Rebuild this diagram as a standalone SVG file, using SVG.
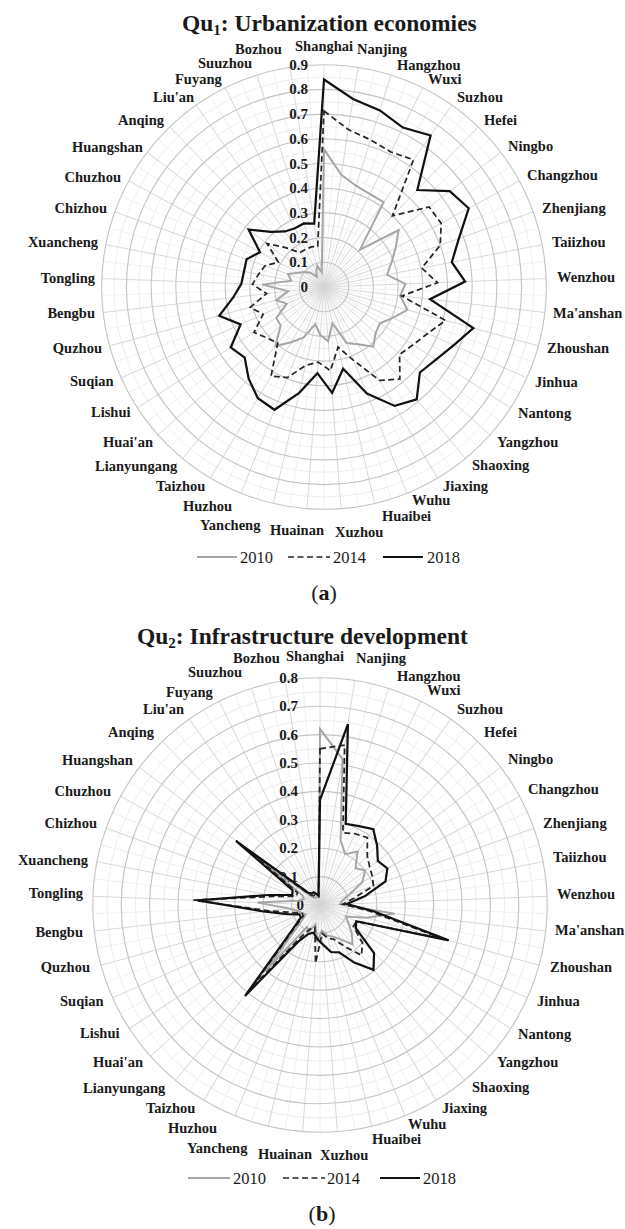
<svg xmlns="http://www.w3.org/2000/svg" width="625" height="1229" viewBox="0 0 625 1229">
<style>
text{font-family:"Liberation Serif","Times New Roman",serif;fill:#1a1a1a}
.ttl{font-size:23.5px;font-weight:bold}
.sub{font-size:15px}
.city{font-size:14.5px;font-weight:bold}
.tick{font-size:15px;font-weight:bold;text-anchor:end}
.leg{font-size:16.5px}
.cap{font-size:22px}
.gA .maj{fill:none;stroke:#c4c4c4;stroke-width:0.45}
.gA .min{fill:none;stroke:#e6e6e6;stroke-width:0.3}
.gA use{stroke:#d6d6d6;stroke-width:0.36}
.gA use.m{stroke:#ececec;stroke-width:0.3}
.gB .maj{fill:none;stroke:#c4c4c4;stroke-width:0.4}
.gB .min{fill:none;stroke:#e6e6e6;stroke-width:0.27}
.gB use{stroke:#d6d6d6;stroke-width:0.32}
.gB use.m{stroke:#ececec;stroke-width:0.27}
.sA polygon,.sB polygon{fill:none;stroke-linejoin:miter}
.sA .y10{stroke:#a6a6a6;stroke-width:0.81}
.sA .y14{stroke:#262626;stroke-width:0.7;stroke-dasharray:2.4 1.4}
.sA .y18{stroke:#111;stroke-width:0.9}
.sB .y10{stroke:#a6a6a6;stroke-width:0.7}
.sB .y14{stroke:#262626;stroke-width:0.62;stroke-dasharray:2.1 1.25}
.sB .y18{stroke:#111;stroke-width:0.78}
.lg10{stroke:#a6a6a6;stroke-width:2}
.lg14{stroke:#262626;stroke-width:1.7;stroke-dasharray:6 3.5}
.lg18{stroke:#111;stroke-width:2.2}
</style>
<defs>
<line id="spA" x1="0" y1="0" x2="0" y2="-90"/>
<line id="spB" x1="0" y1="0" x2="0" y2="-80"/>
</defs>
<rect x="0" y="0" width="625" height="1229" fill="#ffffff"/>

<!-- ================= CHART A ================= -->
<g id="chartA-title"><text class="ttl" x="182" y="31">Qu<tspan class="sub" dy="4">1</tspan><tspan dy="-4">: Urbanization economies</tspan></text></g>

<g id="chartA-grid" class="gA" transform="translate(324,287) scale(2.47)">
<circle class="min" r="5"/><circle class="min" r="15"/><circle class="min" r="25"/><circle class="min" r="35"/><circle class="min" r="45"/><circle class="min" r="55"/><circle class="min" r="65"/><circle class="min" r="75"/><circle class="min" r="85"/>
<use class="m" href="#spA" transform="rotate(4.39)"/><use class="m" href="#spA" transform="rotate(13.171)"/><use class="m" href="#spA" transform="rotate(21.951)"/><use class="m" href="#spA" transform="rotate(30.732)"/><use class="m" href="#spA" transform="rotate(39.512)"/><use class="m" href="#spA" transform="rotate(48.293)"/><use class="m" href="#spA" transform="rotate(57.073)"/><use class="m" href="#spA" transform="rotate(65.854)"/><use class="m" href="#spA" transform="rotate(74.634)"/><use class="m" href="#spA" transform="rotate(83.415)"/><use class="m" href="#spA" transform="rotate(92.195)"/><use class="m" href="#spA" transform="rotate(100.976)"/><use class="m" href="#spA" transform="rotate(109.756)"/><use class="m" href="#spA" transform="rotate(118.537)"/><use class="m" href="#spA" transform="rotate(127.317)"/><use class="m" href="#spA" transform="rotate(136.098)"/><use class="m" href="#spA" transform="rotate(144.878)"/><use class="m" href="#spA" transform="rotate(153.659)"/><use class="m" href="#spA" transform="rotate(162.439)"/><use class="m" href="#spA" transform="rotate(171.22)"/><use class="m" href="#spA" transform="rotate(180)"/><use class="m" href="#spA" transform="rotate(188.78)"/><use class="m" href="#spA" transform="rotate(197.561)"/><use class="m" href="#spA" transform="rotate(206.341)"/><use class="m" href="#spA" transform="rotate(215.122)"/><use class="m" href="#spA" transform="rotate(223.902)"/><use class="m" href="#spA" transform="rotate(232.683)"/><use class="m" href="#spA" transform="rotate(241.463)"/><use class="m" href="#spA" transform="rotate(250.244)"/><use class="m" href="#spA" transform="rotate(259.024)"/><use class="m" href="#spA" transform="rotate(267.805)"/><use class="m" href="#spA" transform="rotate(276.585)"/><use class="m" href="#spA" transform="rotate(285.366)"/><use class="m" href="#spA" transform="rotate(294.146)"/><use class="m" href="#spA" transform="rotate(302.927)"/><use class="m" href="#spA" transform="rotate(311.707)"/><use class="m" href="#spA" transform="rotate(320.488)"/><use class="m" href="#spA" transform="rotate(329.268)"/><use class="m" href="#spA" transform="rotate(338.049)"/><use class="m" href="#spA" transform="rotate(346.829)"/><use class="m" href="#spA" transform="rotate(355.61)"/>
<use href="#spA"/><use href="#spA" transform="rotate(8.7805)"/><use href="#spA" transform="rotate(17.561)"/><use href="#spA" transform="rotate(26.3415)"/><use href="#spA" transform="rotate(35.122)"/><use href="#spA" transform="rotate(43.9025)"/><use href="#spA" transform="rotate(52.683)"/><use href="#spA" transform="rotate(61.4635)"/><use href="#spA" transform="rotate(70.244)"/><use href="#spA" transform="rotate(79.0245)"/><use href="#spA" transform="rotate(87.805)"/><use href="#spA" transform="rotate(96.5855)"/><use href="#spA" transform="rotate(105.366)"/><use href="#spA" transform="rotate(114.1465)"/><use href="#spA" transform="rotate(122.927)"/><use href="#spA" transform="rotate(131.7075)"/><use href="#spA" transform="rotate(140.488)"/><use href="#spA" transform="rotate(149.2685)"/><use href="#spA" transform="rotate(158.049)"/><use href="#spA" transform="rotate(166.8295)"/><use href="#spA" transform="rotate(175.61)"/><use href="#spA" transform="rotate(184.3905)"/><use href="#spA" transform="rotate(193.171)"/><use href="#spA" transform="rotate(201.9515)"/><use href="#spA" transform="rotate(210.732)"/><use href="#spA" transform="rotate(219.5125)"/><use href="#spA" transform="rotate(228.293)"/><use href="#spA" transform="rotate(237.0735)"/><use href="#spA" transform="rotate(245.854)"/><use href="#spA" transform="rotate(254.6345)"/><use href="#spA" transform="rotate(263.415)"/><use href="#spA" transform="rotate(272.1955)"/><use href="#spA" transform="rotate(280.976)"/><use href="#spA" transform="rotate(289.7565)"/><use href="#spA" transform="rotate(298.537)"/><use href="#spA" transform="rotate(307.3175)"/><use href="#spA" transform="rotate(316.098)"/><use href="#spA" transform="rotate(324.8785)"/><use href="#spA" transform="rotate(333.659)"/><use href="#spA" transform="rotate(342.4395)"/><use href="#spA" transform="rotate(351.22)"/>
<circle class="maj" r="10"/><circle class="maj" r="20"/><circle class="maj" r="30"/><circle class="maj" r="40"/><circle class="maj" r="50"/><circle class="maj" r="60"/><circle class="maj" r="70"/><circle class="maj" r="80"/><circle class="maj" r="90"/>
</g>

<g id="chartA-ticks">
<text class="tick" x="308" y="292">0</text>
<text class="tick" x="308" y="267.3">0.1</text>
<text class="tick" x="308" y="242.6">0.2</text>
<text class="tick" x="308" y="217.9">0.3</text>
<text class="tick" x="308" y="193.2">0.4</text>
<text class="tick" x="308" y="168.5">0.5</text>
<text class="tick" x="308" y="143.8">0.6</text>
<text class="tick" x="308" y="119.1">0.7</text>
<text class="tick" x="308" y="94.4">0.8</text>
<text class="tick" x="308" y="69.7">0.9</text>
</g>

<g id="chartA-cities" class="city">
<text class="city" x="295" y="51">Shanghai</text>
<text class="city" x="357" y="54">Nanjing</text>
<text class="city" x="397" y="69.5">Hangzhou</text>
<text class="city" x="428" y="83.5">Wuxi</text>
<text class="city" x="457" y="101.5">Suzhou</text>
<text class="city" x="484" y="124.5">Hefei</text>
<text class="city" x="508" y="150.5">Ningbo</text>
<text class="city" x="527" y="179.5">Changzhou</text>
<text class="city" x="542" y="212.5">Zhenjiang</text>
<text class="city" x="552" y="246.5">Taiizhou</text>
<text class="city" x="557" y="281.5">Wenzhou</text>
<text class="city" x="553" y="317.5">Ma'anshan</text>
<text class="city" x="547" y="352.5">Zhoushan</text>
<text class="city" x="535" y="386.5">Jinhua</text>
<text class="city" x="518" y="417.5">Nantong</text>
<text class="city" x="497" y="446.5">Yangzhou</text>
<text class="city" x="472" y="469.5">Shaoxing</text>
<text class="city" x="443" y="490.5">Jiaxing</text>
<text class="city" x="412" y="504.5">Wuhu</text>
<text class="city" x="382" y="520.5">Huaibei</text>
<text class="city" x="335" y="536.5">Xuzhou</text>
<text class="city" x="270" y="534.5">Huainan</text>
<text class="city" x="200" y="529.5">Yancheng</text>
<text class="city" x="183" y="510.5">Huzhou</text>
<text class="city" x="156" y="490.5">Taizhou</text>
<text class="city" x="95" y="470.5">Lianyungang</text>
<text class="city" x="103" y="446.5">Huai'an</text>
<text class="city" x="91" y="416.5">Lishui</text>
<text class="city" x="70" y="385.5">Suqian</text>
<text class="city" x="102" y="352.5" text-anchor="end">Quzhou</text>
<text class="city" x="95" y="317.5" text-anchor="end">Bengbu</text>
<text class="city" x="95" y="282.5" text-anchor="end">Tongling</text>
<text class="city" x="98" y="246.5" text-anchor="end">Xuancheng</text>
<text class="city" x="107" y="212.5" text-anchor="end">Chizhou</text>
<text class="city" x="121" y="181.5" text-anchor="end">Chuzhou</text>
<text class="city" x="72" y="151.5">Huangshan</text>
<text class="city" x="118" y="124.5">Anqing</text>
<text class="city" x="153" y="101.5">Liu'an</text>
<text class="city" x="175" y="83.5">Fuyang</text>
<text class="city" x="198" y="67.5">Suuzhou</text>
<text class="city" x="235" y="54">Bozhou</text>
</g>

<g id="chartA-series" class="sA" transform="translate(324,287) scale(2.47)">
<polygon id="A2010" class="y10" points="0,-55.7 7.02,-45.46 12.97,-41.00 18.63,-37.64 24.16,-34.35 14.56,-15.13 30.22,-23.04 28.99,-15.77 27.29,-9.80 25.52,-4.95 32.98,-1.26 30.80,3.56 33.75,9.27 27.83,12.48 22.66,14.68 20.90,18.63 19.91,24.15 13.80,23.21 9.16,22.72 3.42,14.61 1.68,21.94 -1.49,19.44 -3.51,14.99 -8.22,20.41 -13.29,22.35 -19.72,23.92 -17.54,15.64 -19.30,12.51 -15.06,6.75 -19.29,5.30 -14.50,1.67 -24.98,-0.96 -13.25,-2.57 -14.59,-5.24 -10.54,-5.73 -7.95,-6.06 -5.55,-5.76 -2.88,-4.09 -3.11,-6.27 -2.72,-8.58 -0.92,-5.93"/>
<polygon id="A2014" class="y14" points="0,-71.3 9.85,-63.74 18.86,-59.59 27.06,-54.67 36.24,-51.53 27.74,-28.82 42.55,-32.43 47.44,-25.80 47.06,-16.90 39.56,-7.67 45.97,-1.76 31.49,3.64 49.18,13.51 41.97,18.82 36.09,23.38 30.60,27.28 30.72,37.27 22.48,37.82 11.96,29.68 5.70,24.34 2.60,33.90 -2.33,30.41 -7.43,31.74 -14.77,36.64 -21.46,36.10 -18.70,22.69 -23.14,20.63 -28.36,18.38 -24.64,11.05 -29.89,8.21 -23.25,2.68 -28.98,-1.11 -26.51,-5.14 -23.91,-8.59 -18.45,-10.04 -23.06,-17.58 -15.26,-15.85 -9.78,-13.90 -7.54,-15.24 -5.13,-16.21 -2.55,-16.50"/>
<polygon id="A2018" class="y18" points="0,-84 11.75,-76.10 22.63,-71.50 31.94,-64.53 43.15,-61.34 37.79,-39.27 50.90,-38.80 58.59,-31.87 54.59,-19.61 51.74,-10.03 57.16,-2.19 42.91,4.95 60.46,16.61 52.56,23.56 45.32,29.37 38.81,34.60 37.53,45.52 28.62,48.14 17.38,43.13 7.75,33.11 3.29,42.87 -2.68,34.90 -10.03,42.84 -20.04,49.71 -26.78,45.04 -30.53,37.04 -32.10,28.61 -37.76,24.47 -33.76,15.14 -42.43,11.66 -36.76,4.24 -33.48,-1.28 -32.40,-6.28 -31.34,-11.26 -25.91,-14.10 -30.54,-23.28 -21.50,-22.34 -15.82,-22.49 -11.76,-23.75 -8.15,-25.74 -3.97,-25.70"/>
</g>

<g id="chartA-legend">
<line class="lg10" x1="197" y1="557" x2="237" y2="557"/>
<text class="leg" x="240" y="562.5">2010</text>
<line class="lg14" x1="288" y1="557" x2="330" y2="557"/>
<text class="leg" x="333" y="562.5">2014</text>
<line class="lg18" x1="383" y1="557" x2="423" y2="557"/>
<text class="leg" x="427" y="562.5">2018</text>
</g>
<g id="chartA-caption"><text class="cap" x="324" y="600" text-anchor="middle">(<tspan font-weight="bold">a</tspan>)</text></g>

<!-- ================= CHART B ================= -->
<g id="chartB-title"><text class="ttl" x="137" y="643.5">Qu<tspan class="sub" dy="4">2</tspan><tspan dy="-4">: Infrastructure development</tspan></text></g>

<g id="chartB-grid" class="gB" transform="translate(320,905) scale(2.84)">
<circle class="min" r="5"/><circle class="min" r="15"/><circle class="min" r="25"/><circle class="min" r="35"/><circle class="min" r="45"/><circle class="min" r="55"/><circle class="min" r="65"/><circle class="min" r="75"/>
<use class="m" href="#spB" transform="rotate(4.39)"/><use class="m" href="#spB" transform="rotate(13.171)"/><use class="m" href="#spB" transform="rotate(21.951)"/><use class="m" href="#spB" transform="rotate(30.732)"/><use class="m" href="#spB" transform="rotate(39.512)"/><use class="m" href="#spB" transform="rotate(48.293)"/><use class="m" href="#spB" transform="rotate(57.073)"/><use class="m" href="#spB" transform="rotate(65.854)"/><use class="m" href="#spB" transform="rotate(74.634)"/><use class="m" href="#spB" transform="rotate(83.415)"/><use class="m" href="#spB" transform="rotate(92.195)"/><use class="m" href="#spB" transform="rotate(100.976)"/><use class="m" href="#spB" transform="rotate(109.756)"/><use class="m" href="#spB" transform="rotate(118.537)"/><use class="m" href="#spB" transform="rotate(127.317)"/><use class="m" href="#spB" transform="rotate(136.098)"/><use class="m" href="#spB" transform="rotate(144.878)"/><use class="m" href="#spB" transform="rotate(153.659)"/><use class="m" href="#spB" transform="rotate(162.439)"/><use class="m" href="#spB" transform="rotate(171.22)"/><use class="m" href="#spB" transform="rotate(180)"/><use class="m" href="#spB" transform="rotate(188.78)"/><use class="m" href="#spB" transform="rotate(197.561)"/><use class="m" href="#spB" transform="rotate(206.341)"/><use class="m" href="#spB" transform="rotate(215.122)"/><use class="m" href="#spB" transform="rotate(223.902)"/><use class="m" href="#spB" transform="rotate(232.683)"/><use class="m" href="#spB" transform="rotate(241.463)"/><use class="m" href="#spB" transform="rotate(250.244)"/><use class="m" href="#spB" transform="rotate(259.024)"/><use class="m" href="#spB" transform="rotate(267.805)"/><use class="m" href="#spB" transform="rotate(276.585)"/><use class="m" href="#spB" transform="rotate(285.366)"/><use class="m" href="#spB" transform="rotate(294.146)"/><use class="m" href="#spB" transform="rotate(302.927)"/><use class="m" href="#spB" transform="rotate(311.707)"/><use class="m" href="#spB" transform="rotate(320.488)"/><use class="m" href="#spB" transform="rotate(329.268)"/><use class="m" href="#spB" transform="rotate(338.049)"/><use class="m" href="#spB" transform="rotate(346.829)"/><use class="m" href="#spB" transform="rotate(355.61)"/>
<use href="#spB"/><use href="#spB" transform="rotate(8.7805)"/><use href="#spB" transform="rotate(17.561)"/><use href="#spB" transform="rotate(26.3415)"/><use href="#spB" transform="rotate(35.122)"/><use href="#spB" transform="rotate(43.9025)"/><use href="#spB" transform="rotate(52.683)"/><use href="#spB" transform="rotate(61.4635)"/><use href="#spB" transform="rotate(70.244)"/><use href="#spB" transform="rotate(79.0245)"/><use href="#spB" transform="rotate(87.805)"/><use href="#spB" transform="rotate(96.5855)"/><use href="#spB" transform="rotate(105.366)"/><use href="#spB" transform="rotate(114.1465)"/><use href="#spB" transform="rotate(122.927)"/><use href="#spB" transform="rotate(131.7075)"/><use href="#spB" transform="rotate(140.488)"/><use href="#spB" transform="rotate(149.2685)"/><use href="#spB" transform="rotate(158.049)"/><use href="#spB" transform="rotate(166.8295)"/><use href="#spB" transform="rotate(175.61)"/><use href="#spB" transform="rotate(184.3905)"/><use href="#spB" transform="rotate(193.171)"/><use href="#spB" transform="rotate(201.9515)"/><use href="#spB" transform="rotate(210.732)"/><use href="#spB" transform="rotate(219.5125)"/><use href="#spB" transform="rotate(228.293)"/><use href="#spB" transform="rotate(237.0735)"/><use href="#spB" transform="rotate(245.854)"/><use href="#spB" transform="rotate(254.6345)"/><use href="#spB" transform="rotate(263.415)"/><use href="#spB" transform="rotate(272.1955)"/><use href="#spB" transform="rotate(280.976)"/><use href="#spB" transform="rotate(289.7565)"/><use href="#spB" transform="rotate(298.537)"/><use href="#spB" transform="rotate(307.3175)"/><use href="#spB" transform="rotate(316.098)"/><use href="#spB" transform="rotate(324.8785)"/><use href="#spB" transform="rotate(333.659)"/><use href="#spB" transform="rotate(342.4395)"/><use href="#spB" transform="rotate(351.22)"/>
<circle class="maj" r="10"/><circle class="maj" r="20"/><circle class="maj" r="30"/><circle class="maj" r="40"/><circle class="maj" r="50"/><circle class="maj" r="60"/><circle class="maj" r="70"/><circle class="maj" r="80"/>
</g>

<g id="chartB-ticks">
<text class="tick" x="304" y="910">0</text>
<text class="tick" x="298" y="881.6">0.1</text>
<text class="tick" x="298" y="853.2">0.2</text>
<text class="tick" x="298" y="824.8">0.3</text>
<text class="tick" x="298" y="796.4">0.4</text>
<text class="tick" x="298" y="768">0.5</text>
<text class="tick" x="298" y="739.6">0.6</text>
<text class="tick" x="298" y="711.2">0.7</text>
<text class="tick" x="298" y="682.8">0.8</text>
</g>

<g id="chartB-cities">
<text class="city" x="286" y="660.5">Shanghai</text>
<text class="city" x="356" y="662.5">Nanjing</text>
<text class="city" x="397" y="680.5">Hangzhou</text>
<text class="city" x="427" y="694.5">Wuxi</text>
<text class="city" x="457" y="713.5">Suzhou</text>
<text class="city" x="484" y="736.5">Hefei</text>
<text class="city" x="508" y="763.5">Ningbo</text>
<text class="city" x="528" y="793.5">Changzhou</text>
<text class="city" x="543" y="827.5">Zhenjiang</text>
<text class="city" x="553" y="861.5">Taiizhou</text>
<text class="city" x="557" y="898.5">Wenzhou</text>
<text class="city" x="555" y="934.5">Ma'anshan</text>
<text class="city" x="550" y="971.5">Zhoushan</text>
<text class="city" x="537" y="1005.5">Jinhua</text>
<text class="city" x="518" y="1038.5">Nantong</text>
<text class="city" x="497" y="1066.5">Yangzhou</text>
<text class="city" x="472" y="1091.5">Shaoxing</text>
<text class="city" x="442" y="1112.5">Jiaxing</text>
<text class="city" x="408" y="1128.5">Wuhu</text>
<text class="city" x="372" y="1143.5">Huaibei</text>
<text class="city" x="320" y="1159.5">Xuzhou</text>
<text class="city" x="258" y="1158.5">Huainan</text>
<text class="city" x="187" y="1152.5">Yancheng</text>
<text class="city" x="168" y="1132.5">Huzhou</text>
<text class="city" x="146" y="1112.5">Taizhou</text>
<text class="city" x="83" y="1092.5">Lianyungang</text>
<text class="city" x="93" y="1066.5">Huai'an</text>
<text class="city" x="80" y="1037.5">Lishui</text>
<text class="city" x="60" y="1005.5">Suqian</text>
<text class="city" x="90" y="971.5" text-anchor="end">Quzhou</text>
<text class="city" x="83" y="936.5" text-anchor="end">Bengbu</text>
<text class="city" x="83" y="897.5" text-anchor="end">Tongling</text>
<text class="city" x="88" y="864.5" text-anchor="end">Xuancheng</text>
<text class="city" x="97" y="827.5" text-anchor="end">Chizhou</text>
<text class="city" x="111" y="795.5" text-anchor="end">Chuzhou</text>
<text class="city" x="62" y="764.5">Huangshan</text>
<text class="city" x="108" y="736.5">Anqing</text>
<text class="city" x="143" y="713.5">Liu'an</text>
<text class="city" x="166" y="696.5">Fuyang</text>
<text class="city" x="188" y="676.5">Suuzhou</text>
<text class="city" x="233" y="662.5">Bozhou</text>
</g>

<g id="chartB-series" class="sB" transform="translate(320,905) scale(2.84)">
<polygon id="B2010" class="y10" points="0,-62 7.94,-51.39 7.24,-22.88 8.87,-17.92 13.23,-18.81 12.48,-12.97 15.91,-12.12 14.93,-8.12 10.35,-3.72 7.85,-1.52 6.99,-0.27 26.33,3.04 16.39,4.50 9.12,4.09 10.07,6.53 11.20,9.98 11.45,13.89 7.15,12.03 4.49,11.13 2.51,10.71 0.69,8.97 -1.00,12.96 -1.59,6.82 -3.74,9.28 -4.60,7.74 -19.08,23.15 -6.72,5.99 -5.04,3.26 -6.39,2.86 -7.71,2.12 -10.93,1.26 -21.98,-0.84 -7.85,-1.52 -5.65,-2.03 -6.15,-3.35 -19.88,-15.16 -2.77,-2.88 -1.73,-2.45 -1.33,-2.69 -0.91,-2.86 -0.46,-2.96"/>
<polygon id="B2014" class="y14" points="0,-55 8.70,-56.33 8.06,-25.46 12.42,-25.09 16.68,-23.72 16.64,-17.29 17.50,-13.34 18.45,-10.04 18.82,-6.76 11.78,-2.28 7.99,-0.31 16.89,1.95 43.39,11.92 12.77,5.73 11.75,7.61 14.93,13.31 14.63,17.75 8.69,14.61 4.86,12.06 2.73,11.68 0.77,9.97 -1.57,20.44 -1.82,7.79 -3.36,8.35 -6.64,11.17 -24.17,29.32 -8.96,7.99 -5.87,3.81 -6.39,2.86 -9.64,2.65 -17.88,2.06 -44.57,-1.71 -15.71,-3.05 -8.47,-3.04 -7.91,-4.30 -23.86,-18.19 -3.47,-3.60 -2.30,-3.27 -1.77,-3.58 -1.06,-3.34 -0.46,-2.96"/>
<polygon id="B2018" class="y18" points="0,-37 9.83,-63.65 9.05,-28.60 13.75,-27.78 18.76,-26.66 20.11,-20.90 20.36,-15.52 23.72,-12.90 23.06,-8.28 15.71,-3.05 9.49,-0.36 18.87,2.18 45.32,12.45 12.77,5.73 12.59,8.16 19.03,16.97 18.83,22.84 12.06,20.29 6.73,16.70 3.87,16.55 1.07,13.96 -0.92,11.96 -2.28,9.74 -4.11,10.20 -7.67,12.89 -26.40,32.02 -9.70,8.65 -6.71,4.35 -7.30,3.27 -11.57,3.18 -19.87,2.29 -42.97,-1.65 -18.16,-3.52 -9.79,-3.52 -9.66,-5.26 -29.59,-22.55 -4.16,-4.32 -2.88,-4.09 -2.22,-4.48 -1.21,-3.81 -0.53,-3.46"/>
</g>

<g id="chartB-legend">
<line class="lg10" x1="188" y1="1178" x2="230" y2="1178"/>
<text class="leg" x="233" y="1183.5">2010</text>
<line class="lg14" x1="283" y1="1178" x2="325" y2="1178"/>
<text class="leg" x="327" y="1183.5">2014</text>
<line class="lg18" x1="380" y1="1178" x2="420" y2="1178"/>
<text class="leg" x="423" y="1183.5">2018</text>
</g>
<g id="chartB-caption"><text class="cap" x="322" y="1221" text-anchor="middle">(<tspan font-weight="bold">b</tspan>)</text></g>
</svg>
